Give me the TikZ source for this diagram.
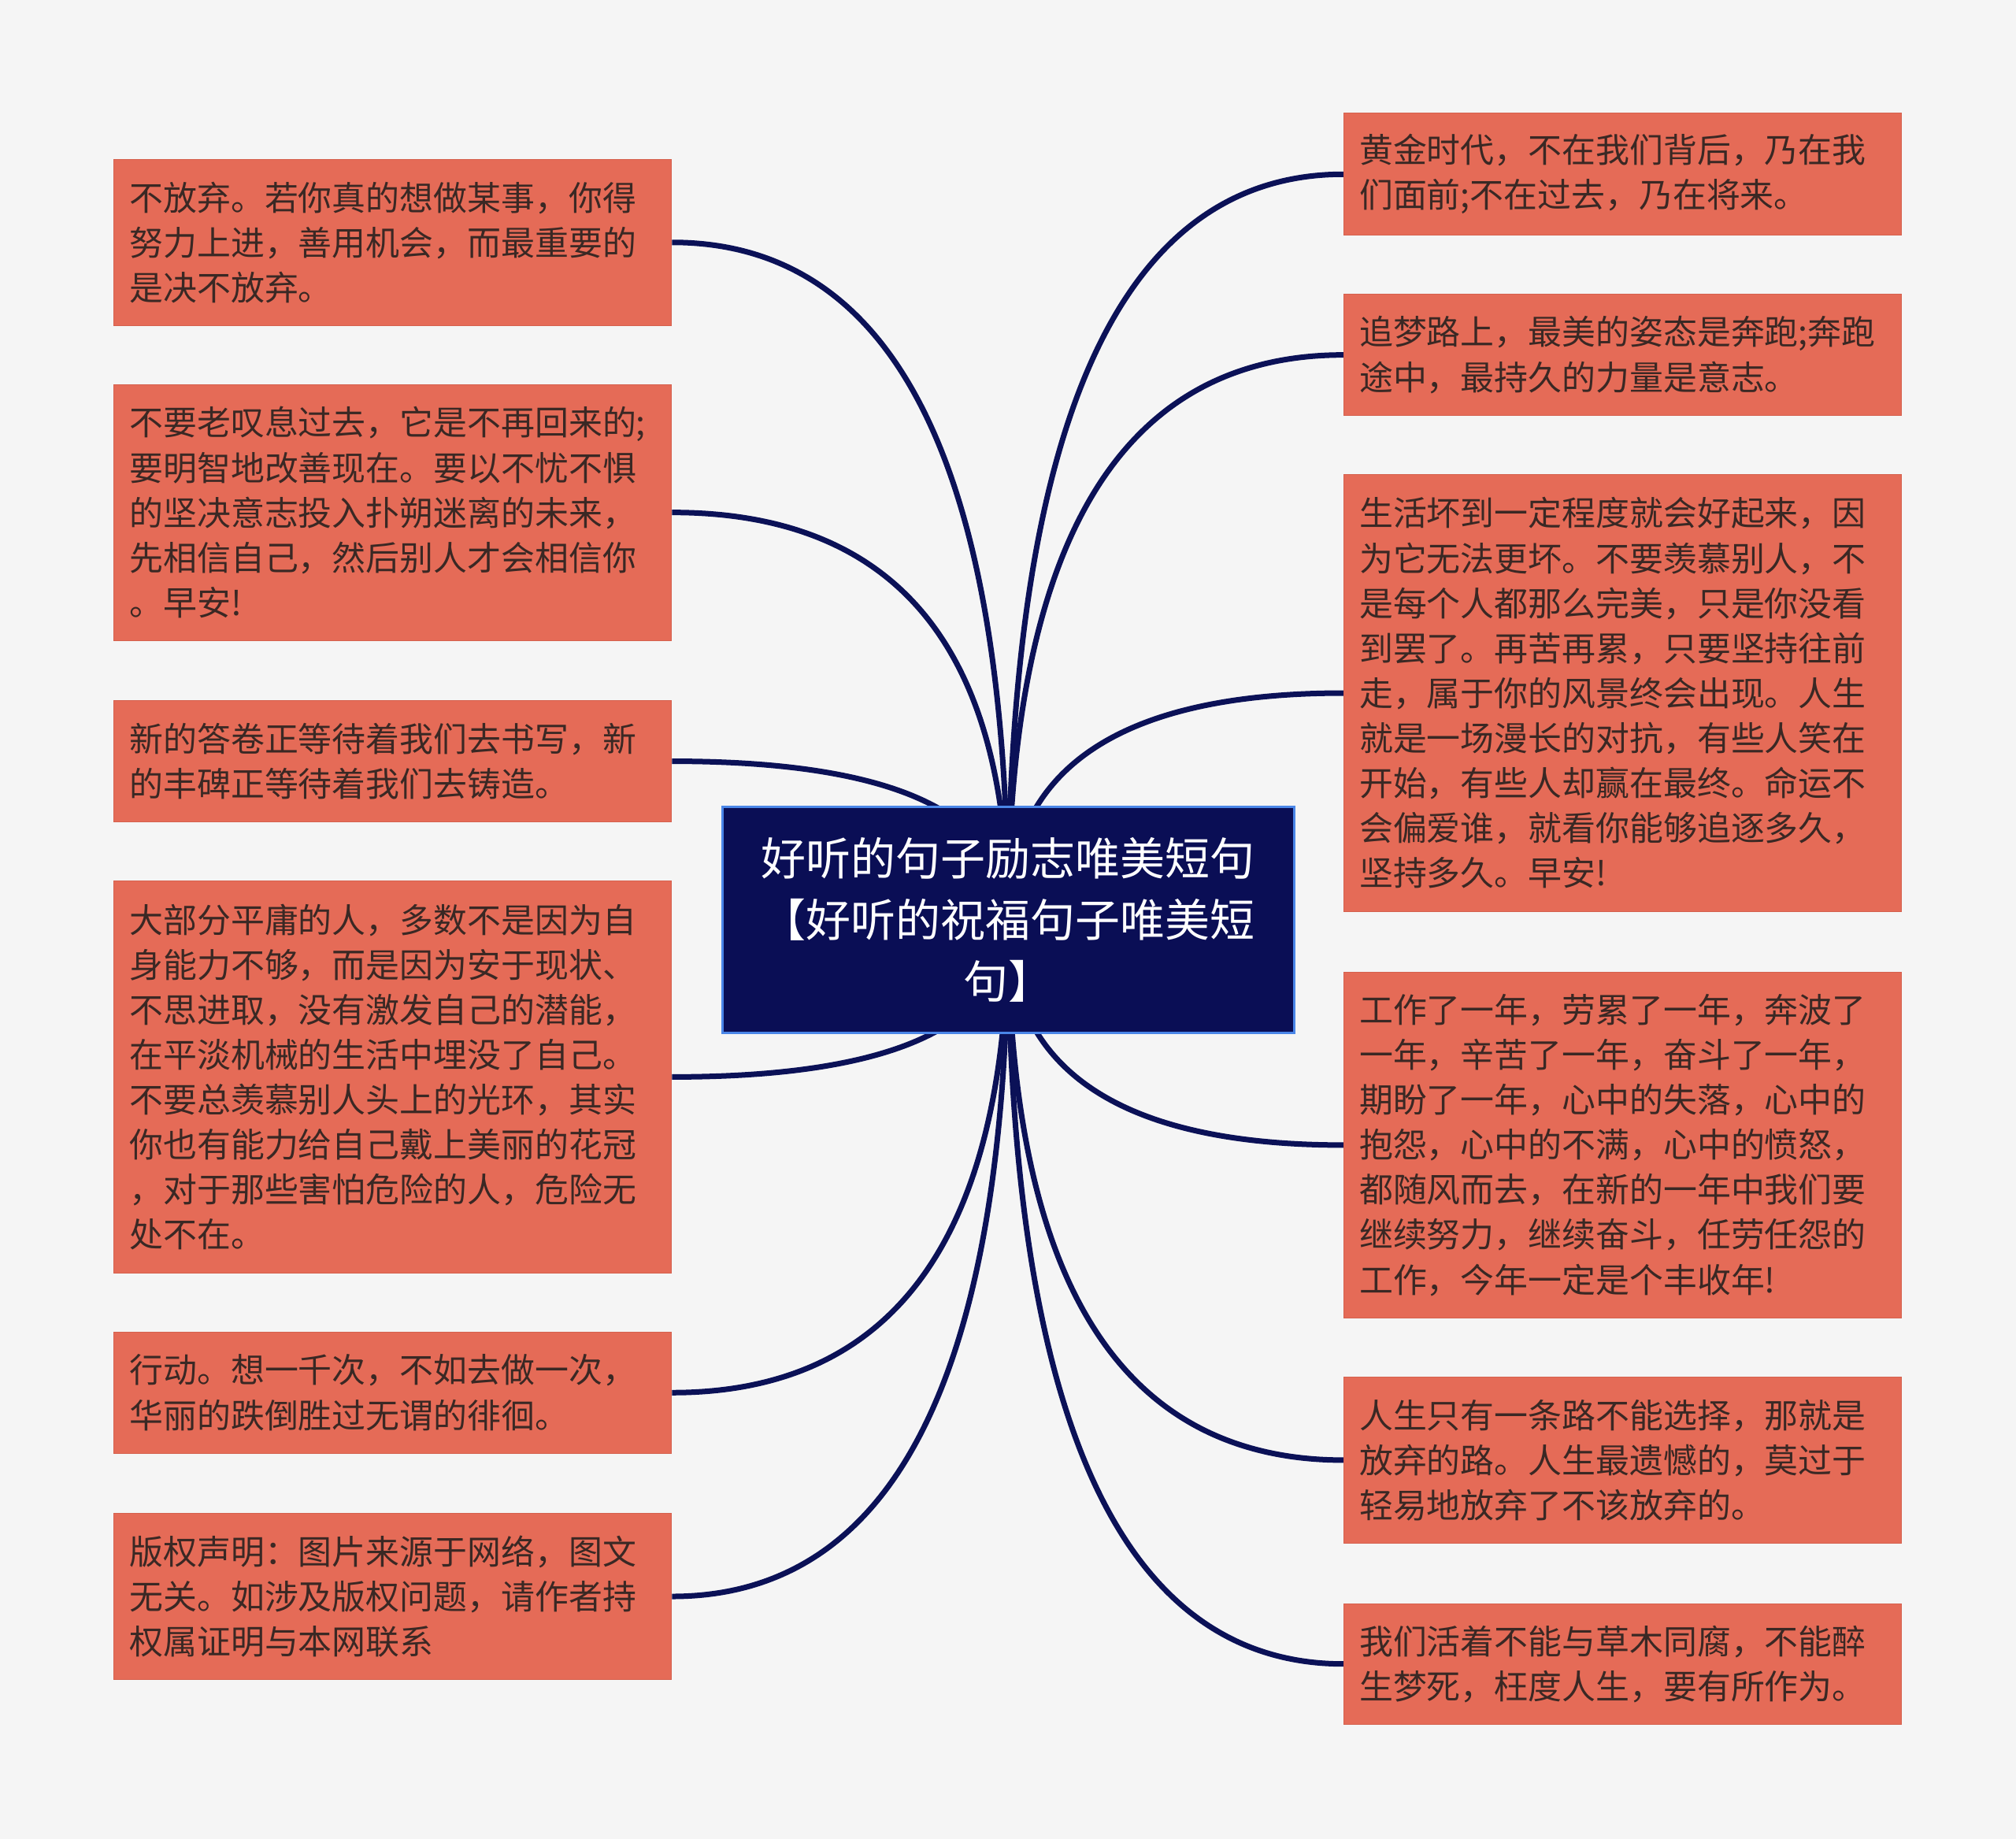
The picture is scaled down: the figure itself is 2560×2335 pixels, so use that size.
\documentclass[tikz,border=0pt]{standalone}
\usepackage{fontspec}
\setmainfont{Noto Sans CJK SC}
\usetikzlibrary{calc}
\pgfdeclarelayer{bg}
\pgfsetlayers{bg,main}
\definecolor{bgc}{HTML}{F5F5F5}
\definecolor{boxc}{HTML}{E56B57}
\definecolor{boxedge}{HTML}{D5614E}
\definecolor{txtc}{HTML}{3A2824}
\definecolor{hubc}{HTML}{0A0E55}
\definecolor{hubedge}{HTML}{4A86E8}
\definecolor{linec}{HTML}{0B1157}
\begin{document}
\begin{tikzpicture}[x=0.5pt,y=-0.5pt,
  leaf/.style={rectangle, fill=boxc, draw=boxedge, line width=0.5pt, text=txtc,
    text width=334.4pt, inner xsep=9.8pt, inner ysep=0pt, align=left,
    font=\fontsize{21.45pt}{28.55pt}\selectfont},
  hub/.style={rectangle, fill=hubc, draw=hubedge, line width=1.5pt, text=white,
    minimum width=363pt, minimum height=143.5pt, inner sep=0pt, align=center,
    font=\fontsize{28.5pt}{39pt}\selectfont},
  link/.style={draw=linec, line width=3.5pt}]
\useasboundingbox (0,0) rectangle (2560,2335);
\begin{pgfonlayer}{bg}
\fill[bgc] (0,0) rectangle (2560,2335);
\end{pgfonlayer}

\node[hub] (hub) at (1280,1167.5) {好听的句子励志唯美短句\\【好听的祝福句子唯美短\\句】};

% left
\node[leaf, minimum height=105.35pt] (L1) at (498.8,307.75) {不放弃。若你真的想做某事，你得\\努力上进，善用机会，而最重要的\\是决不放弃。};
\node[leaf, minimum height=162.45pt] (L2) at (498.8,650.65) {不要老叹息过去，它是不再回来的;\\要明智地改善现在。要以不忧不惧\\的坚决意志投入扑朔迷离的未来，\\先相信自己，然后别人才会相信你\\。早安!};
\node[leaf, minimum height=76.75pt] (L3) at (498.8,966.55) {新的答卷正等待着我们去书写，新\\的丰碑正等待着我们去铸造。};
\node[leaf, minimum height=249pt] (L4) at (498.8,1367.4) {大部分平庸的人，多数不是因为自\\身能力不够，而是因为安于现状、\\不思进取，没有激发自己的潜能，\\在平淡机械的生活中埋没了自己。\\不要总羡慕别人头上的光环，其实\\你也有能力给自己戴上美丽的花冠\\，对于那些害怕危险的人，危险无\\处不在。};
\node[leaf, minimum height=76.75pt] (L5) at (498.8,1768.25) {行动。想一千次，不如去做一次，\\华丽的跌倒胜过无谓的徘徊。};
\node[leaf, minimum height=105.3pt] (L6) at (498.8,2027) {版权声明：图片来源于网络，图文\\无关。如涉及版权问题，请作者持\\权属证明与本网联系};

% right
\node[leaf, minimum height=77.5pt] (R1) at (2060.5,221.25) {黄金时代，不在我们背后，乃在我\\们面前;不在过去，乃在将来。};
\node[leaf, minimum height=76.75pt] (R2) at (2060.5,450.65) {追梦路上，最美的姿态是奔跑;奔跑\\途中，最持久的力量是意志。};
\node[leaf, minimum height=277.55pt] (R3) at (2060.5,880) {生活坏到一定程度就会好起来，因\\为它无法更坏。不要羡慕别人，不\\是每个人都那么完美，只是你没看\\到罢了。再苦再累，只要坚持往前\\走，属于你的风景终会出现。人生\\就是一场漫长的对抗，有些人笑在\\开始，有些人却赢在最终。命运不\\会偏爱谁，就看你能够追逐多久，\\坚持多久。早安!};
\node[leaf, minimum height=219.6pt] (R4) at (2060.5,1453.9) {工作了一年，劳累了一年，奔波了\\一年，辛苦了一年，奋斗了一年，\\期盼了一年，心中的失落，心中的\\抱怨，心中的不满，心中的愤怒，\\都随风而去，在新的一年中我们要\\继续努力，继续奋斗，任劳任怨的\\工作，今年一定是个丰收年!};
\node[leaf, minimum height=105.3pt] (R5) at (2060.5,1853.9) {人生只有一条路不能选择，那就是\\放弃的路。人生最遗憾的，莫过于\\轻易地放弃了不该放弃的。};
\node[leaf, minimum height=76.7pt] (R6) at (2060.5,2112.7) {我们活着不能与草木同腐，不能醉\\生梦死，枉度人生，要有所作为。};

\begin{pgfonlayer}{bg}
\foreach \n/\a in {L1/east,L2/east,L3/east,L4/east,L5/east,L6/east,R1/west,R2/west,R3/west,R4/west,R5/west,R6/west}{
  \coordinate (k\n) at (hub.center |- \n.\a);
  \draw[link] (hub.center) .. controls ($(hub.center)!0.6667!(k\n)$) and ($(\n.\a)!0.6667!(k\n)$) .. (\n.\a);
}
\end{pgfonlayer}
\end{tikzpicture}
\end{document}
